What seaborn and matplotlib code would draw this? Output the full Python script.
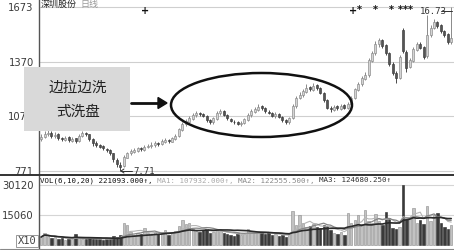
import matplotlib
matplotlib.use("Agg")
import matplotlib.pyplot as plt
from matplotlib.patches import Ellipse, Rectangle, FancyArrow
from matplotlib.lines import Line2D
import numpy as np
import pandas as pd
import seaborn as sns

# ---------------- data ----------------
opens = [945, 958, 972, 982, 962, 972, 952, 943, 957, 938,
         950, 935, 962, 982, 972, 948, 927, 912, 907, 893,
         887, 868, 833, 805, 800, 845, 868, 878, 883, 897,
         888, 903, 908, 913, 927, 918, 933, 942, 933, 948,
         962, 998, 1028, 1043, 1058, 1078, 1092, 1087, 1073, 1052,
         1038, 1058, 1088, 1102, 1078, 1058, 1043, 1042, 1028, 1033,
         1053, 1078, 1098, 1108, 1127, 1117, 1098, 1092, 1073, 1087,
         1068, 1052, 1038, 1062, 1128, 1173, 1188, 1208, 1232, 1218,
         1242, 1227, 1198, 1162, 1118, 1108, 1127, 1113, 1132, 1118,
         1138, 1173, 1218, 1248, 1278, 1298, 1378, 1418, 1468, 1492,
         1462, 1418, 1362, 1312, 1282, 1545, 1428, 1342, 1378, 1438,
         1472, 1452, 1402, 1518, 1558, 1592, 1572, 1542, 1522, 1478]
closes = [960, 975, 980, 965, 970, 950, 945, 955, 940, 948,
          935, 965, 980, 975, 945, 925, 915, 905, 895, 885,
          870, 835, 810, 795, 850, 870, 880, 885, 895, 890,
          905, 910, 915, 925, 920, 935, 940, 935, 950, 965,
          1000, 1030, 1045, 1060, 1080, 1090, 1085, 1075, 1050, 1040,
          1060, 1090, 1100, 1080, 1060, 1045, 1040, 1030, 1035, 1055,
          1080, 1100, 1110, 1125, 1115, 1100, 1090, 1075, 1085, 1070,
          1050, 1040, 1060, 1130, 1175, 1190, 1210, 1230, 1220, 1240,
          1225, 1200, 1160, 1120, 1110, 1125, 1115, 1130, 1120, 1140,
          1175, 1220, 1250, 1280, 1300, 1380, 1420, 1470, 1490, 1460,
          1420, 1360, 1310, 1280, 1400, 1430, 1340, 1380, 1440, 1470,
          1450, 1400, 1520, 1560, 1590, 1570, 1540, 1520, 1480, 1500]
highs = [975, 990, 995, 990, 985, 978, 960, 965, 962, 958,
         955, 975, 992, 988, 975, 950, 935, 920, 912, 900,
         892, 872, 840, 820, 858, 878, 890, 895, 905, 902,
         915, 920, 928, 935, 932, 945, 950, 948, 960, 975,
         1010, 1040, 1058, 1072, 1092, 1100, 1098, 1092, 1078, 1058,
         1068, 1100, 1112, 1108, 1085, 1065, 1052, 1048, 1045, 1062,
         1090, 1110, 1122, 1140, 1132, 1122, 1105, 1098, 1095, 1092,
         1072, 1058, 1068, 1140, 1185, 1205, 1222, 1248, 1240, 1255,
         1250, 1232, 1205, 1168, 1128, 1135, 1132, 1140, 1138, 1150,
         1185, 1230, 1262, 1292, 1315, 1392, 1432, 1485, 1505, 1498,
         1470, 1425, 1368, 1320, 1410, 1560, 1435, 1392, 1452, 1482,
         1478, 1458, 1630, 1575, 1605, 1598, 1578, 1548, 1528, 1673]
lows = [935, 950, 965, 955, 955, 940, 935, 938, 930, 930,
        925, 930, 958, 965, 935, 910, 905, 895, 885, 875,
        860, 820, 795, 771, 795, 840, 860, 870, 875, 880,
        882, 895, 900, 905, 910, 912, 925, 925, 928, 940,
        958, 992, 1020, 1035, 1050, 1070, 1075, 1068, 1042, 1030,
        1032, 1052, 1080, 1072, 1052, 1038, 1030, 1022, 1020, 1028,
        1048, 1070, 1090, 1100, 1105, 1092, 1082, 1068, 1065, 1062,
        1040, 1030, 1032, 1058, 1120, 1165, 1180, 1200, 1210, 1212,
        1215, 1192, 1150, 1110, 1095, 1100, 1105, 1108, 1112, 1112,
        1130, 1168, 1210, 1240, 1270, 1290, 1370, 1410, 1455, 1450,
        1410, 1350, 1300, 1255, 1275, 1420, 1315, 1335, 1370, 1430,
        1440, 1385, 1395, 1510, 1550, 1560, 1530, 1510, 1470, 1470]
volumes = [4000, 6000, 4500, 3500, 4000, 3000, 3500, 2500, 3000, 2800,
           5500, 3500, 3000, 3200, 3500, 3000, 2800, 3000, 2600, 3200,
           3400, 4500, 4200, 4800, 11000, 10000, 6500, 5000, 6000, 5500,
           8500, 6000, 5000, 6500, 5500, 6000, 7500, 5000, 6500, 7000,
           9500, 12500, 10500, 11000, 8000, 7000, 6500, 7500, 8000, 6000,
           6500, 7500, 7000, 6000, 5500, 5000, 4500, 6000, 5000, 5500,
           8000, 7000, 6500, 7000, 6000, 5500, 6000, 5000, 5500, 4500,
           5000, 4000, 5500, 17000, 10000, 15000, 11000, 9000, 9500, 10500,
           9000, 8500, 10000, 9500, 7500, 6000, 5500, 6500, 5000, 16000,
           11000, 12500, 15000, 10500, 17500, 12000, 11000, 15500, 12000, 10000,
           16500, 13500, 8500, 8000, 9000, 30000, 13000, 14000, 18500, 11000,
           12500, 10500, 19500, 12000, 15000, 16000, 11000, 9000, 8000, 10000]
price_ticks = [771, 1072, 1370, 1673]
price_tick_labels = ["771", "1072", "1370", "1673"]
vol_ticks = [15060, 30120]
vol_tick_labels = ["15060", "30120"]
ma_windows = [6, 10, 20]
header_parts = ["VOL(6,10,20) 221093.000↑,", "MA1: 107932.000↑,",
                "MA2: 122555.500↑,", "MA3: 124680.250↑"]
box_lines = ["边拉边洗", "式洗盘"]
title_main = "深圳股份"
title_sub = "日线"
low_label = "7.71"
high_label = "16.73"

# ---------------- style ----------------
sns.set_theme(style="white")
plt.rcParams["font.family"] = ["Noto Sans CJK SC", "DejaVu Sans"]

W, H = 454, 250
fig = plt.figure(figsize=(W / 100, H / 100), dpi=100)
fig.patch.set_facecolor("white")

def fx(x):
    return x / W

def fy(y):
    return 1 - y / H

# price axis: pixel y 0..174
ax = fig.add_axes([fx(39), fy(174), 1 - fx(39), 174 / H])
# volume axis: pixel y 176..248
vax = fig.add_axes([fx(39), fy(248), 1 - fx(39), 72 / H])

n = len(closes)
idx = np.arange(n)
df = pd.DataFrame({"i": idx, "open": opens, "close": closes,
                   "high": highs, "low": lows, "vol": volumes})
df["up"] = df["close"] >= df["open"]

up_face, up_edge = "#d4d4d4", "#858585"
dn_face = "#555555"

# wicks
ax.vlines(df["i"], df["low"], df["high"],
          colors=np.where(df["up"], "#8a8a8a", "#4a4a4a"), lw=0.7, zorder=2)
# bodies
body_bottom = np.minimum(df["open"], df["close"])
body_h = np.maximum(np.abs(df["close"] - df["open"]), 3)
ax.bar(df["i"], body_h, bottom=body_bottom, width=0.58,
       color=np.where(df["up"], up_face, dn_face),
       edgecolor=np.where(df["up"], up_edge, "#3a3a3a"), linewidth=0.45, zorder=3)

ax.set_xlim(-0.6, 119.8)
ax.set_ylim(754.5, 1711.5)
ax.set_yticks(price_ticks)
ax.set_yticklabels(price_tick_labels)
ax.set_xticks([])
for t in price_ticks:
    ax.axhline(t, color="#cfcfcf", lw=0.8, zorder=1)

# volume bars
vax.bar(df["i"], df["vol"], width=0.7,
        color=np.where(df["up"], "#c2c2c2", "#3a3a3a"),
        edgecolor=np.where(df["up"], "#8a8a8a", "#2a2a2a"), linewidth=0.4, zorder=2)
ma_colors = ["#b5b5b5", "#858585", "#2a2a2a"]
ma_lw = [0.8, 0.9, 1.2]
for w, c, lw in zip(ma_windows, ma_colors, ma_lw):
    ma = df["vol"].rolling(w, min_periods=1).mean()
    sns.lineplot(x=df["i"], y=ma, ax=vax, color=c, lw=lw, zorder=3)
vax.set_xlim(-0.6, 119.8)
vax.set_ylim(-1506, 34638)
vax.set_yticks(vol_ticks)
vax.set_yticklabels(vol_tick_labels)
vax.set_xticks([])
vax.set_xlabel("")
vax.set_ylabel("")
for t in vol_ticks:
    vax.axhline(t, color="#d5d5d5", lw=0.8, zorder=1)

for a in (ax, vax):
    for s in ("top", "right", "bottom"):
        a.spines[s].set_visible(False)
    a.spines["left"].set_color("#555555")
    a.spines["left"].set_linewidth(1.0)
    a.set_facecolor("white")
    a.tick_params(axis="y", direction="out", length=3, width=0.8, color="#555555",
                  pad=0.8, labelsize=7.2, labelcolor="#3a3a3a")
    for lab in a.get_yticklabels():
        lab.set_fontfamily("DejaVu Sans")

# separator lines
fig.add_artist(Line2D([0, 1], [fy(175), fy(175)], transform=fig.transFigure,
                      color="#333333", lw=1.4))
fig.add_artist(Line2D([0, 1], [fy(248.5), fy(248.5)], transform=fig.transFigure,
                      color="#888888", lw=0.8))

# header in volume panel
mono = "DejaVu Sans Mono"
hx = 40
hcolors = ["#111111", "#aaaaaa", "#888888", "#333333"]
for part, c in zip(header_parts, hcolors):
    fig.text(fx(hx), fy(180.5), part, fontsize=5.4, family=mono, color=c,
             ha="left", va="center")
    hx += (len(part) + 1) * 4.5

# X10 box
fig.text(fx(27), fy(241), "X10", fontsize=7.5, family=mono, color="#444444",
         ha="center", va="center",
         bbox=dict(boxstyle="square,pad=0.12", fc="white", ec="#888888", lw=0.6))

# title (top-left)
fig.text(fx(41), fy(4), title_main, fontsize=6.5, color="#222222", ha="left", va="center")
fig.text(fx(80), fy(4), title_sub, fontsize=6.5, color="#999999", ha="left", va="center")

# top markers
for xm, mk in [(145, "+"), (353, "+"), (359, "*"), (375, "*"), (391, "*"),
               (400, "*"), (405, "*"), (410, "*")]:
    fig.text(fx(xm), fy(10.5), mk, fontsize=7, family="DejaVu Sans", color="#111111",
             ha="center", va="center", weight="bold")

# high / low labels
fig.text(fx(420), fy(11), high_label, fontsize=6.5, family=mono, color="#333333",
         ha="left", va="center")
fig.add_artist(Line2D([fx(441), fx(452)], [fy(11), fy(11)], transform=fig.transFigure,
                      color="#333333", lw=0.7))
fig.text(fx(133), fy(171), low_label, fontsize=6.5, family=mono, color="#333333",
         ha="left", va="center")
fig.add_artist(Line2D([fx(121), fx(132)], [fy(171), fy(171)], transform=fig.transFigure,
                      color="#333333", lw=0.7))
fig.add_artist(Line2D([fx(121), fx(124)], [fy(171), fy(169)], transform=fig.transFigure,
                      color="#333333", lw=0.7))
fig.add_artist(Line2D([fx(121), fx(124)], [fy(171), fy(173)], transform=fig.transFigure,
                      color="#333333", lw=0.7))

# gray text box
fig.add_artist(Rectangle((fx(24), fy(131)), (130 - 24) / W, (131 - 67) / H,
                         transform=fig.transFigure, facecolor="#d9d9d9",
                         edgecolor="none", zorder=5))
fig.text(fx(78), fy(87.5), box_lines[0], fontsize=10.5, color="#222222",
         ha="center", va="center", zorder=6)
fig.text(fx(78), fy(112), box_lines[1], fontsize=10.5, color="#222222",
         ha="center", va="center", zorder=6)

# arrow
fig.add_artist(Line2D([fx(131), fx(160)], [fy(103), fy(103)],
                      transform=fig.transFigure, color="#111111", lw=2))
fig.add_artist(FancyArrow(
    fx(158), fy(103), 9 / W, 0, width=0.0, head_width=11 / H, head_length=9 / W,
    length_includes_head=True, transform=fig.transFigure, color="#111111"))

# ellipse
fig.add_artist(Ellipse((fx(261.5), fy(105)), 181 / W, 64 / H, transform=fig.transFigure,
                       fill=False, edgecolor="#111111", lw=1.8, zorder=7))

fig.savefig("out.png", dpi=100, facecolor="white")
